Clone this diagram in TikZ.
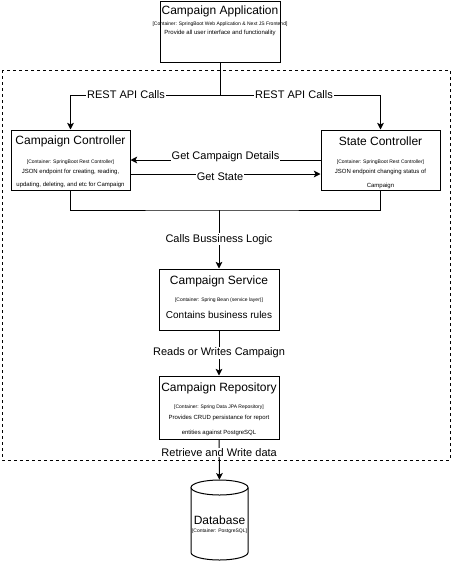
\documentclass[tikz,border=0pt]{standalone}
\usepackage{fontspec}
\setmainfont{Liberation Sans}
\usetikzlibrary{arrows.meta}

\begin{document}
\begin{tikzpicture}[x=0.75pt,y=-0.75pt]
  \tikzset{box/.style={draw,line width=0.75pt,inner sep=0pt},
    ttl/.style={font=\fontsize{9}{10.8}\selectfont,inner sep=0pt},
    ctn/.style={font=\fontsize{3.75}{4.5}\selectfont,inner sep=0pt},
    dsc/.style={font=\fontsize{4.5}{5.4}\selectfont,inner sep=0pt},
    lbl/.style={font=\fontsize{8.25}{9.9}\selectfont,fill=white,inner sep=0.6pt},
    arr/.style={line width=0.75pt,-{Stealth[length=5pt,width=5pt,inset=1.2pt]}},
    con/.style={line width=0.75pt}}
  \useasboundingbox (0,0) rectangle (452,561);
  \draw[con,dash pattern=on 2.25pt off 2.25pt] (2,70) rectangle (450,460);

  \node[box,minimum width=90pt,minimum height=45.75pt] (app) at (220,31.5) {};
  \node[ttl] (app-t) at (220,11) {Campaign Application};
  \node[ctn] (app-c) at (220,24) {[Container: SpringBoot Web Application \& Next JS Frontend]};
  \node[dsc] (app-d) at (220,33) {Provide all user interface and functionality};

  \node[box,minimum width=89.25pt,minimum height=45pt] (ctrl) at (70.5,160) {};
  \node[ttl] (ctrl-t) at (70.5,141) {Campaign Controller};
  \node[ctn] (ctrl-c) at (70.5,162) {[Container: SpringBoot Rest Controller]};
  \node[dsc] (ctrl-d1) at (70.5,172) {JSON endpoint for creating, reading,};
  \node[dsc] (ctrl-d2) at (70.5,185) {updating, deleting, and etc for Campaign};

  \node[box,minimum width=89.25pt,minimum height=45pt] (state) at (380.5,160) {};
  \node[ttl] (state-t) at (380.5,141) {State Controller};
  \node[ctn] (state-c) at (380.5,162) {[Container: SpringBoot Rest Controller]};
  \node[dsc] (state-d1) at (380.5,172) {JSON endpoint changing status of};
  \node[dsc] (state-d2) at (380.5,185.5) {Campaign};

  \node[box,minimum width=90pt,minimum height=45.75pt] (srv) at (219,299.5) {};
  \node[ttl] (srv-t) at (219,281) {Campaign Service};
  \node[ctn] (srv-c) at (219,300) {[Container: Spring Bean (service layer)]};
  \node[font=\fontsize{7.5}{9}\selectfont,inner sep=0pt] (srv-d) at (219,315) {Contains business rules};

  \node[box,minimum width=90pt,minimum height=47.25pt] (repo) at (219,407.5) {};
  \node[ttl] (repo-t) at (219,388) {Campaign Repository};
  \node[ctn] (repo-c) at (219,407) {[Container: Spring Data JPA Repository]};
  \node[dsc] (repo-d1) at (219,417.5) {Provides CRUD persistance for report};
  \node[dsc] (repo-d2) at (219,433) {entities against PostgreSQL};

  \node[minimum width=42.75pt,minimum height=60pt,inner sep=0pt] (db) at (219.5,520) {};
  \draw[con] (219.5,487.5) ellipse[x radius=28.5,y radius=7.5];
  \draw[con] (191,487.5) -- (191,552.5) arc[start angle=180,end angle=0,x radius=28.5,y radius=7.5] -- (248,487.5);
  \node[ttl] (db-t) at (219.5,520) {Database};
  \node[ctn] (db-c) at (219.5,531) {[Container: PostgreSQL]};

  \coordinate (hub) at (220,95);
  \draw[con] (app.south) -- (hub);
  \draw[arr] (hub) -| (ctrl.north);
  \draw[arr] (hub) -| (state.north);
  \node[lbl] (rest-l) at (126,95) {REST API Calls};
  \node[lbl] (rest-r) at (294,95) {REST API Calls};

  \draw[arr] (state.west) -- (ctrl.east);
  \node[lbl] (getd) at (225.5,157) {Get Campaign Details};
  \draw[arr] (ctrl.east |- 0,174) -- (state.west |- 0,174);
  \node[lbl] (gets) at (220,177) {Get State};

  \coordinate (jn) at (219,210);
  \draw[con] (ctrl.south) |- (jn) -| (state.south);
  \draw[arr] (jn) -- node[lbl] (calls) {Calls Bussiness Logic} (srv.north);
  \draw[arr] (srv.south) -- node[lbl] (rw) {Reads or Writes Campaign} (repo.north);
  \draw[arr] (repo.south) -- node[lbl,pos=0.32] (rwd) {Retrieve and Write data} (db.north);
\end{tikzpicture}
\end{document}
